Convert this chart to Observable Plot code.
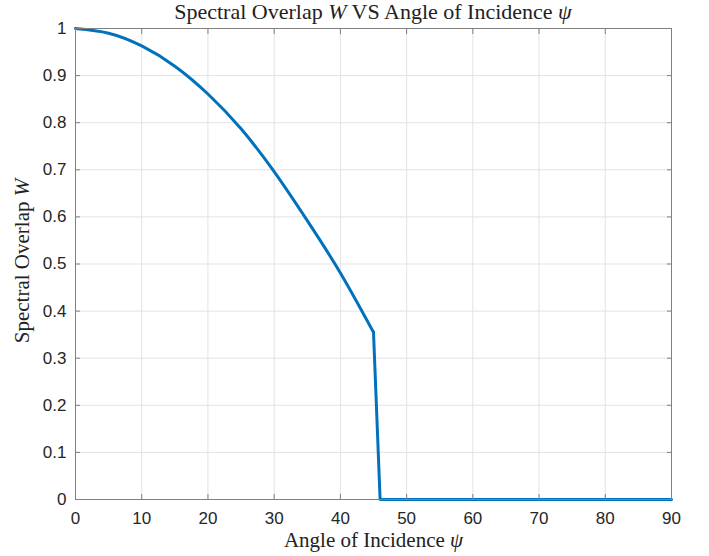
<!DOCTYPE html>
<html>
<head>
<meta charset="utf-8">
<script src="https://cdn.jsdelivr.net/npm/d3@7"></script>
<script src="https://cdn.jsdelivr.net/npm/@observablehq/plot@0.6"></script>
<style>
  html, body { margin: 0; padding: 0; background: #fff; }
  #title { position: absolute; left: 75px; width: 596px; top: -1px; text-align: center;
    font-family: "Liberation Serif", "DejaVu Serif", serif; font-size: 22px; color: #222; white-space: nowrap; }
  #chart { position: absolute; left: 0; top: 0; }
</style>
</head>
<body>
<div id="chart"></div>
<div id="title">Spectral Overlap <i>W</i> VS Angle of Incidence <i>ψ</i></div>
<script>
// Smooth part of the curve (angle in degrees, spectral overlap W)
const angleCurve = [0, 5, 10, 15, 20, 25, 30, 35, 40, 45];
const wCurve     = [1.000, 0.990, 0.963, 0.920, 0.861, 0.787, 0.696, 0.592, 0.481, 0.355];
// Drop and flat tail
const angleTail = [45, 46, 90];
const wTail     = [0.355, 0, 0];

const xTicks = [0, 10, 20, 30, 40, 50, 60, 70, 80, 90];
const yTicks = [0, 0.1, 0.2, 0.3, 0.4, 0.5, 0.6, 0.7, 0.8, 0.9, 1];

const curve = angleCurve.map((a, i) => ({a, w: wCurve[i]}));
const tail = angleTail.map((a, i) => ({a, w: wTail[i]}));

const lineColor = "#0072BD";
const axisColor = "#808080";

const plot = Plot.plot({
  width: 709,
  height: 556,
  marginTop: 28,
  marginLeft: 75,
  marginRight: 38,
  marginBottom: 57,
  style: {fontFamily: "'Liberation Sans', Arial, sans-serif", fontSize: "17px", color: "#262626", background: "#fff"},
  x: {type: "linear", domain: [0, 90]},
  y: {type: "linear", domain: [0, 1]},
  marks: [
    Plot.gridX(xTicks, {stroke: "#e3e3e3", strokeOpacity: 1}),
    Plot.gridY(yTicks, {stroke: "#e3e3e3", strokeOpacity: 1}),
    Plot.line(curve, {x: "a", y: "w", stroke: lineColor, strokeWidth: 3, curve: "natural"}),
    Plot.line(tail, {x: "a", y: "w", stroke: lineColor, strokeWidth: 3}),
    Plot.frame({stroke: axisColor, strokeWidth: 1}),
    Plot.axisX(xTicks, {anchor: "bottom", tickSize: -5, tickPadding: 17, stroke: axisColor, label: null,
      tickFormat: d => String(d), fontSize: 17, fill: "#262626"}),
    Plot.axisX(xTicks, {anchor: "top", tickSize: -5, stroke: axisColor, label: null, tickFormat: () => ""}),
    Plot.axisY(yTicks, {anchor: "left", tickSize: -5, tickPadding: 14, stroke: axisColor, label: null,
      tickFormat: d => String(+d.toFixed(1)), fontSize: 17, fill: "#262626"}),
    Plot.axisY(yTicks, {anchor: "right", tickSize: -5, stroke: axisColor, label: null, tickFormat: () => ""}),
    Plot.text(["Angle of Incidence ψ"], {frameAnchor: "bottom", dy: 47, text: d => d,
      fontFamily: "'Liberation Serif', serif", fontSize: 21, fill: "#222"}),
    Plot.text(["Spectral Overlap W"], {frameAnchor: "left", textAnchor: "middle", dx: -53, dy: -3, rotate: -90, text: d => d,
      fontFamily: "'Liberation Serif', serif", fontSize: 21, fill: "#222"})
  ]
});
// italicize the math symbols in the axis labels
plot.querySelectorAll("text").forEach(t => {
  const s = t.textContent;
  if (s === "Angle of Incidence ψ") t.innerHTML = 'Angle of Incidence <tspan font-style="italic">ψ</tspan>';
  if (s === "Spectral Overlap W") t.innerHTML = 'Spectral Overlap <tspan font-style="italic">W</tspan>';
});
document.getElementById("chart").appendChild(plot);
</script>
</body>
</html>
